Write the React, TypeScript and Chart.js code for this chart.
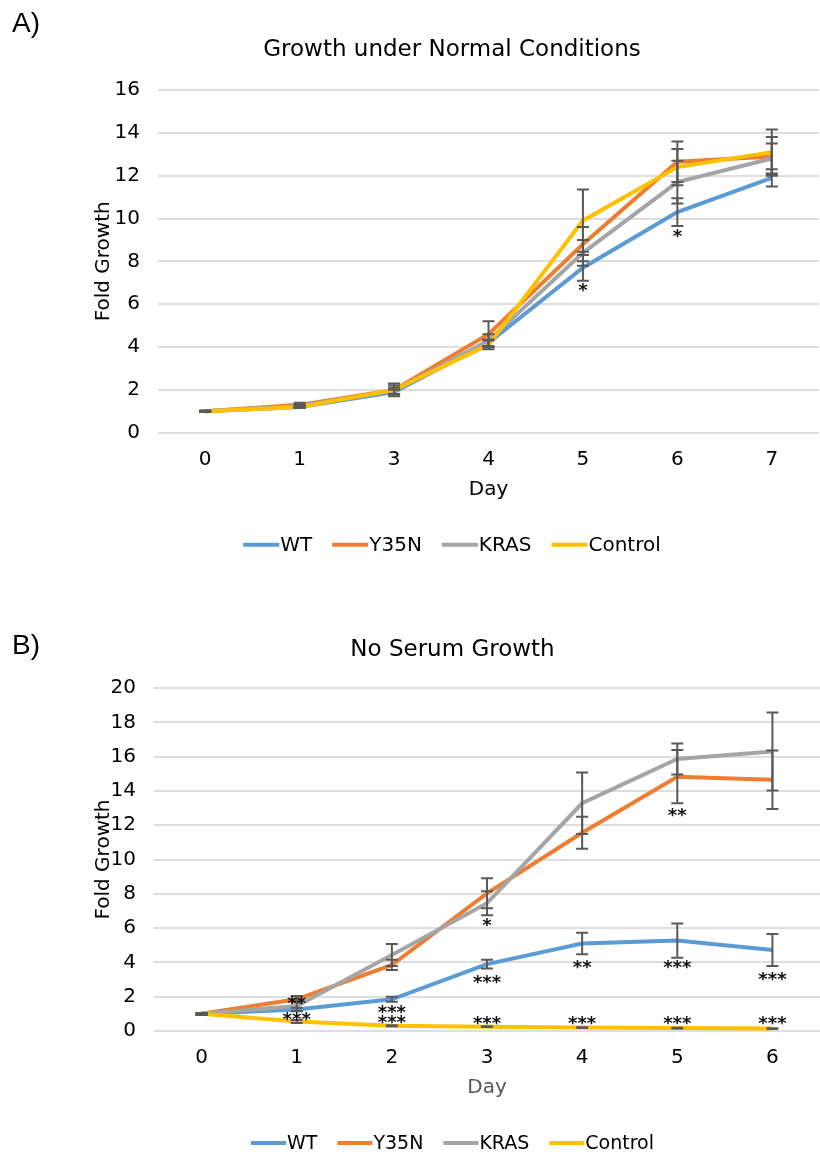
import React, { useEffect, useRef } from 'react';
import { Chart, registerables } from 'chart.js';

Chart.register(...registerables);
Chart.defaults.font.family = '"DejaVu Sans", Verdana, sans-serif';

// ---------- shared ----------
const seriesNames = ['WT', 'Y35N', 'KRAS', 'Control'];
const seriesColors = ['#5B9BD5', '#ED7D31', '#A5A5A5', '#FFC000'];

// ---------- Panel A: Growth under Normal Conditions ----------
const titleA = 'Growth under Normal Conditions';
const daysA = ['0', '1', '3', '4', '5', '6', '7'];
const wtA = [1.0, 1.2, 1.9, 4.2, 7.7, 10.3, 11.9];
const y35nA = [1.0, 1.3, 2.0, 4.6, 8.8, 12.65, 12.9];
const krasA = [1.0, 1.25, 1.95, 4.3, 8.4, 11.7, 12.8];
const controlA = [1.0, 1.2, 2.0, 4.1, 9.9, 12.4, 13.1];
const wtErrA = [0.03, 0.05, 0.1, 0.15, 0.6, 0.65, 0.4];
const y35nErrA = [0.03, 0.1, 0.3, 0.6, 0.8, 0.95, 0.9];
const krasErrA = [0.03, 0.08, 0.15, 0.3, 0.6, 1.0, 0.7];
const controlErrA = [0.03, 0.05, 0.2, 0.2, 1.45, 0.85, 1.05];
const starsA = [
  { day: '5', value: 6.76, text: '*' },
  { day: '6', value: 9.32, text: '*' },
];
const yTicksA = { min: 0, max: 16, step: 2 };

// ---------- Panel B: No Serum Growth ----------
const titleB = 'No Serum Growth';
const daysB = ['0', '1', '2', '3', '4', '5', '6'];
const wtB = [1.0, 1.25, 1.85, 3.9, 5.1, 5.27, 4.72];
const y35nB = [1.0, 1.85, 3.85, 8.03, 11.56, 14.83, 14.65];
const krasB = [1.0, 1.46, 4.43, 7.45, 13.28, 15.86, 16.3];
const controlB = [1.0, 0.55, 0.31, 0.25, 0.2, 0.17, 0.14];
const wtErrB = [0.05, 0.1, 0.15, 0.25, 0.63, 1.0, 0.93];
const y35nErrB = [0.05, 0.19, 0.3, 0.87, 0.93, 1.55, 1.7];
const krasErrB = [0.05, 0.3, 0.64, 0.7, 1.8, 0.9, 2.27];
const controlErrB = [0.02, 0.09, 0.03, 0.02, 0.02, 0.02, 0.02];
const starsB = [
  { day: '1', value: 1.75, text: '**' },
  { day: '1', value: 0.83, text: '***' },
  { day: '2', value: 1.27, text: '***' },
  { day: '2', value: 0.68, text: '***' },
  { day: '3', value: 6.31, text: '*' },
  { day: '3', value: 3.03, text: '***' },
  { day: '3', value: 0.6, text: '***' },
  { day: '4', value: 3.85, text: '**' },
  { day: '4', value: 0.6, text: '***' },
  { day: '5', value: 12.73, text: '**' },
  { day: '5', value: 3.85, text: '***' },
  { day: '5', value: 0.6, text: '***' },
  { day: '6', value: 3.2, text: '***' },
  { day: '6', value: 0.6, text: '***' },
];
const yTicksB = { min: 0, max: 20, step: 2 };

// ---------- plugins ----------
const errorBarPlugin = {
  id: 'errbars',
  afterDatasetsDraw(chart: any, _args: any, opts: any) {
    const ctx = chart.ctx;
    const ys = chart.scales.y;
    ctx.save();
    ctx.strokeStyle = opts.color;
    ctx.lineWidth = opts.width;
    chart.data.datasets.forEach((ds: any, i: number) => {
      const meta = chart.getDatasetMeta(i);
      meta.data.forEach((pt: any, j: number) => {
        const v = ds.data[j];
        const e = ds.errors[j];
        const x = pt.x;
        const t = ys.getPixelForValue(v + e);
        const b = ys.getPixelForValue(v - e);
        ctx.beginPath();
        ctx.moveTo(x, t);
        ctx.lineTo(x, b);
        ctx.moveTo(x - opts.cap, t);
        ctx.lineTo(x + opts.cap, t);
        ctx.moveTo(x - opts.cap, b);
        ctx.lineTo(x + opts.cap, b);
        ctx.stroke();
      });
    });
    ctx.restore();
  },
};

const starPlugin = {
  id: 'stars',
  afterDraw(chart: any, _args: any, opts: any) {
    const ctx = chart.ctx;
    const xs = chart.scales.x;
    const ys = chart.scales.y;
    const labels = chart.data.labels;
    ctx.save();
    ctx.fillStyle = opts.color;
    ctx.font = `bold ${opts.size}px "DejaVu Sans"`;
    ctx.textAlign = 'center';
    ctx.textBaseline = 'alphabetic';
    (opts.items || []).forEach((it: any) => {
      const x = xs.getPixelForValue(labels.indexOf(it.day));
      const y = ys.getPixelForValue(it.value);
      const m = ctx.measureText(it.text);
      const off = (m.actualBoundingBoxAscent - m.actualBoundingBoxDescent) / 2;
      ctx.fillText(it.text, x, y + off);
    });
    ctx.restore();
  },
};

const legendPlugin = {
  id: 'customLegend',
  afterDraw(chart: any, _args: any, opts: any) {
    const ctx = chart.ctx;
    ctx.save();
    ctx.font = `${opts.size}px "DejaVu Sans"`;
    const items = chart.data.datasets.map((d: any) => ({
      label: d.label,
      color: d.borderColor,
      w: ctx.measureText(d.label).width,
    }));
    const total =
      items.reduce((s: number, it: any) => s + opts.line + opts.gap + it.w, 0) +
      opts.spacing * (items.length - 1);
    const pad = chart.options.layout.padding;
    const cx = (pad.left + chart.width - pad.right) / 2;
    let x = cx - total / 2;
    const y = chart.chartArea.bottom + opts.dy;
    ctx.textBaseline = 'middle';
    ctx.textAlign = 'left';
    items.forEach((it: any) => {
      ctx.strokeStyle = it.color;
      ctx.lineWidth = 4;
      ctx.beginPath();
      ctx.moveTo(x, y);
      ctx.lineTo(x + opts.line, y);
      ctx.stroke();
      x += opts.line + opts.gap;
      ctx.fillStyle = '#000';
      ctx.fillText(it.label, x, y + 1);
      x += it.w + opts.spacing;
    });
    ctx.restore();
  },
};

// ---------- config ----------
function makeConfig(p: any) {
  return {
    type: 'line',
    data: {
      labels: p.days,
      datasets: seriesNames.map((name, i) => ({
        label: name,
        data: p.values[i],
        errors: p.errors[i],
        borderColor: seriesColors[i],
        backgroundColor: seriesColors[i],
        borderWidth: 4,
        pointRadius: 0,
        pointHoverRadius: 0,
        tension: 0,
        fill: false,
        order: 4 - i,
      })),
    },
    options: {
      responsive: false,
      animation: false,
      events: [],
      layout: { padding: { left: 85, right: p.padRight, top: 0, bottom: p.padBottom } },
      plugins: {
        legend: { display: false },
        tooltip: { enabled: false },
        title: {
          display: true,
          text: p.title,
          color: '#000',
          font: { size: 23, weight: 'normal' },
          padding: { top: p.titleTop, bottom: p.titleBottom },
        },
        errbars: { color: '#595959', width: 2, cap: 6 },
        stars: { items: p.stars, size: 18, color: '#111' },
        customLegend: { dy: 112, size: p.legendSize, line: p.legendLine, gap: 1, spacing: 20 },
      },
      scales: {
        x: {
          offset: true,
          grid: { display: false, drawTicks: false, offset: true },
          border: { display: false },
          ticks: { font: { size: 20 }, color: '#000', padding: 15 },
          title: {
            display: true,
            text: 'Day',
            color: p.dayColor,
            font: { size: 20 },
            padding: { top: 0, bottom: 3 },
          },
          afterFit: (s: any) => {
            s.height = 72;
          },
        },
        y: {
          min: p.ticks.min,
          max: p.ticks.max,
          ticks: { stepSize: p.ticks.step, font: { size: 20 }, color: '#000', padding: 18 },
          grid: { color: '#dedede', lineWidth: 2, drawTicks: false },
          border: { display: false },
          title: {
            display: true,
            text: 'Fold Growth',
            color: '#000',
            font: { size: 20 },
            padding: { top: 7, bottom: 0 },
          },
          afterFit: (s: any) => {
            s.width = p.yWidth;
          },
        },
      },
    },
    plugins: [errorBarPlugin, starPlugin, legendPlugin],
  };
}

function ChartCanvas({ config, width, height, top }: any) {
  const ref = useRef<HTMLCanvasElement>(null);
  useEffect(() => {
    if (!ref.current) return;
    const chart = new Chart(ref.current, config as any);
    return () => chart.destroy();
  }, []);
  return (
    <canvas
      ref={ref}
      width={width}
      height={height}
      style={{ position: 'absolute', left: 0, top, width, height }}
    />
  );
}

// title box: padding.top + 1.2 * 23 (27.6) + padding.bottom = plot top
const configA = makeConfig({
  title: titleA,
  days: daysA,
  values: [wtA, y35nA, krasA, controlA],
  errors: [wtErrA, y35nErrA, krasErrA, controlErrA],
  stars: starsA,
  ticks: yTicksA,
  padRight: 1,
  padBottom: 85.3,
  titleTop: 36,
  titleBottom: 26.4,
  yWidth: 73,
  dayColor: '#000',
  legendSize: 20,
  legendLine: 36,
});

const configB = makeConfig({
  title: titleB,
  days: daysB,
  values: [wtB, y35nB, krasB, controlB],
  errors: [wtErrB, y35nErrB, krasErrB, controlErrB],
  stars: starsB,
  ticks: yTicksB,
  padRight: 0,
  padBottom: 53,
  titleTop: 46,
  titleBottom: 24.4,
  yWidth: 69,
  dayColor: '#595959',
  legendSize: 19,
  legendLine: 35,
});

const panelLabel: React.CSSProperties = {
  position: 'absolute',
  left: 12,
  fontFamily: '"Liberation Sans", Arial, sans-serif',
  fontSize: 28,
  lineHeight: '28px',
  color: '#000',
};

export default function App() {
  return (
    <div style={{ position: 'absolute', left: 0, top: 0, width: 820, height: 1156, background: '#fff' }}>
      <ChartCanvas config={configA} width={820} height={590} top={0} />
      <ChartCanvas config={configB} width={820} height={566} top={590} />
      <div style={{ ...panelLabel, top: 9 }}>A)</div>
      <div style={{ ...panelLabel, top: 631 }}>B)</div>
    </div>
  );
}
